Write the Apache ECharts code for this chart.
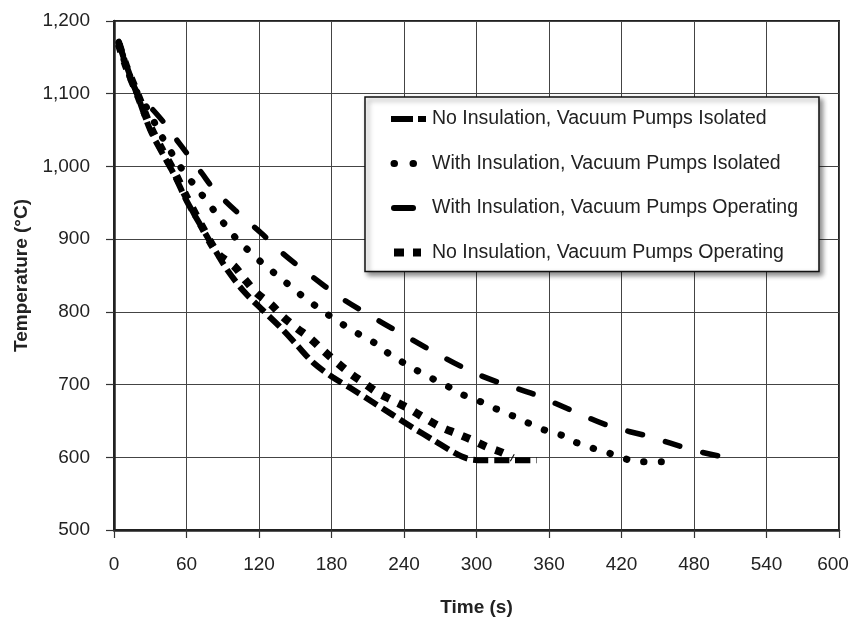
<!DOCTYPE html>
<html>
<head>
<meta charset="utf-8">
<script src="https://cdn.jsdelivr.net/npm/echarts@6/dist/echarts.min.js"></script>
<style>
html,body{margin:0;padding:0;background:#fff;}
#chart{width:853px;height:622px;}
</style>
</head>
<body>
<div id="chart"></div>
<script>
// Tick values
const xTicks = [0, 60, 120, 180, 240, 300, 360, 420, 480, 540, 600];
const yTicks = [500, 600, 700, 800, 900, 1000, 1100, 1200];

const seriesNames = [
  "No Insulation, Vacuum Pumps Isolated",
  "With Insulation, Vacuum Pumps Isolated",
  "With Insulation, Vacuum Pumps Operating",
  "No Insulation, Vacuum Pumps Operating"
];

// [time (s), temperature (°C)]
const noInsIsolated = [
  [4,1170],[10,1140],[20,1095],[30,1050],[40,1018],[50,988],[60,953],[72,918],[84,884],
  [94,857],[107,829],[122,804],[137,780],[151,755],[165,730],[181,710],[196,695],
  [213,677],[230,659],[247,641],[265,623],[282,606],[293,598],[305,596],[330,596],[350,596]
];
const withInsIsolated = [
  [4,1170],[10,1138],[17,1108],[27,1081],[40,1040],[56,997],[70,967],[82,941],[100,903],
  [122,868],[133,853],[144,838],[155,823],[167,808],[179,794],[191,781],[203,769],
  [216,757],[227,743],[250,720],[278,696],[290,685],[304,676],[317,666],[330,657],
  [343,647],[357,637],[371,630],[383,620],[397,612],[411,605],[425,597],[438,594],[453,594]
];
const withInsOperating = [
  [4,1172],[8,1150],[13,1122],[20,1100],[30,1082],[40,1063],[48,1045],[63,1012],
  [73,990],[83,968],[100,940],[122,908],[140,880],[162,851],[189,818],[220,787],
  [240,768],[270,740],[297,717],[320,702],[347,687],[378,665],[410,643],[444,628],
  [477,611],[500,602],[518,598]
];
const noInsOperating = [
  [4,1168],[10,1138],[20,1097],[30,1055],[40,1022],[50,992],[60,958],[72,920],[86,880],
  [100,862],[108,845],[118,826],[130,810],[140,793],[151,778],[162,764],[173,747],
  [184,731],[195,716],[207,702],[218,689],[231,678],[245,666],[257,654],[270,642],
  [283,633],[296,624],[309,614],[322,606],[330,599]
];

const FONT = "'Liberation Sans Narrow', 'Arial Narrow', 'Liberation Sans', sans-serif";

const lineStyles = [
  {width: 6, type: [15, 6], cap: 'butt'},
  {width: 7, type: [0.5, 17], cap: 'round'},
  {width: 5.5, type: [15, 24], cap: 'round'},
  {width: 8, type: [8, 10], cap: 'butt'}
];
const legendLineStyles = [
  {width: 6, type: [22, 5, 8, 100], cap: 'butt'},
  {width: 7, type: [0.5, 18.5, 0.5, 100], cap: 'round', dashOffset: -3},
  {width: 6, type: [19, 100], cap: 'round', dashOffset: -3},
  {width: 8, type: [10, 9, 8, 100], cap: 'butt'}
];

const chart = echarts.init(document.getElementById('chart'));

function mkSeries(name, data, lineStyle) {
  return {
    name: name,
    type: 'line',
    data: data,
    symbol: 'none',
    smooth: 0.3,
    color: '#000',
    lineStyle: Object.assign({color: '#000'}, lineStyle),
    z: 3
  };
}

chart.setOption({
  animation: false,
  backgroundColor: '#fff',
  grid: {
    left: 114, right: 14, top: 21, bottom: 92,
    outerBoundsMode: 'none',
    containLabel: false,
    show: true, borderColor: '#222', borderWidth: 2, backgroundColor: 'transparent'
  },
  legend: {
    orient: 'vertical',
    left: 365, top: 97,
    padding: [12, 21, 9, 22],
    itemWidth: 36, itemHeight: 20, itemGap: 24.5,
    backgroundColor: '#fff',
    borderColor: '#111', borderWidth: 1.5,
    shadowBlur: 5, shadowColor: 'rgba(0,0,0,0.45)', shadowOffsetX: 3, shadowOffsetY: 3,
    textStyle: {fontFamily: FONT, fontSize: 19.5, color: '#222'},
    itemStyle: {opacity: 0, color: 'transparent', borderWidth: 0},
    data: seriesNames.map((n, i) => ({
      name: n,
      itemStyle: {opacity: 0, color: 'transparent', borderWidth: 0},
      lineStyle: Object.assign({color: '#000', opacity: 1}, legendLineStyles[i])
    }))
  },
  xAxis: {
    type: 'value', min: xTicks[0], max: xTicks[xTicks.length - 1], interval: 60,
    name: 'Time (s)', nameLocation: 'middle', nameGap: 68,
    nameTextStyle: {fontFamily: FONT, fontSize: 19, fontWeight: 'bold', color: '#222'},
    axisLine: {show: true, lineStyle: {color: '#222', width: 2.5}},
    axisTick: {show: true, inside: false, length: 8, lineStyle: {color: '#333', width: 1.2}},
    axisLabel: {fontFamily: FONT, fontSize: 19, color: '#222', margin: 25,
      formatter: v => v === xTicks[xTicks.length - 1] ? '{last|' + v + '}' : String(v),
      rich: {last: {fontFamily: FONT, fontSize: 19, color: '#222', padding: [0, 12, 0, 0]}}},
    splitLine: {show: true, lineStyle: {color: '#444', width: 1}}
  },
  yAxis: {
    type: 'value', min: yTicks[0], max: yTicks[yTicks.length - 1], interval: 100,
    name: 'Temperature (°C)', nameLocation: 'middle', nameGap: 82, nameRotate: 90,
    nameTextStyle: {fontFamily: FONT, fontSize: 19, fontWeight: 'bold', color: '#222'},
    axisLine: {show: true, lineStyle: {color: '#222', width: 2.5}},
    axisTick: {show: true, inside: false, length: 8, lineStyle: {color: '#333', width: 1.2}},
    axisLabel: {fontFamily: FONT, fontSize: 19, color: '#222', margin: 24,
      formatter: v => v.toLocaleString('en-US')},
    splitLine: {show: true, lineStyle: {color: '#444', width: 1}}
  },
  series: seriesNames.map((n, i) =>
    mkSeries(n, [noInsIsolated, withInsIsolated, withInsOperating, noInsOperating][i], lineStyles[i]))
});
</script>
</body>
</html>
